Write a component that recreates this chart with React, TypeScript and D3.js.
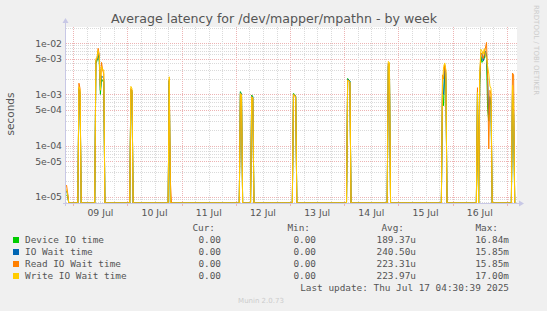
import React from "react";
import * as d3 from "d3";

// Hours since 09 Jul 2025 00:00 (30-minute samples around each burst; all other samples are 0)
const sampleHours = [
  -3.0, -2.5, -2.0,
  2.0, 2.5, 3.0, 3.5,
  9.5, 10.0, 10.5, 11.0, 11.5, 12.0, 12.5, 13.0, 13.5, 14.0,
  25.0, 25.5, 26.0, 26.5,
  42.0, 42.5, 43.0, 43.5,
  73.5, 74.0, 74.5, 75.0,
  78.5, 79.0, 79.5, 80.0,
  97.0, 97.5, 98.0, 98.5, 99.0,
  121.0, 121.5, 122.0, 122.5, 123.0,
  139.0, 139.5, 140.0, 140.5,
  163.0, 163.5, 164.0, 164.5, 165.0, 165.5,
  178.5, 179.0, 179.5, 180.0, 180.5, 181.0, 181.5, 182.0, 182.5, 183.0, 183.5, 184.0, 184.5, 185.0, 185.5,
  194.0, 194.5, 195.0, 195.5,
];

const deviceIO = [
  1.1e-5, 1.0e-5, 0,
  0, 1.2e-3, 1.0e-3, 0,
  0, 4.0e-3, 4.5e-3, 6.0e-3, 4.5e-3, 1.0e-3, 2.0e-3, 1.8e-3, 1.8e-3, 0,
  0, 1.2e-3, 1.1e-3, 0,
  0, 1.8e-3, 0, 0,
  0, 1.13e-3, 1.0e-3, 0,
  0, 9.7e-4, 9.0e-4, 0,
  0, 1.04e-3, 1.0e-3, 9.0e-4, 0,
  0, 2.04e-3, 1.9e-3, 1.8e-3, 0,
  0, 3.5e-3, 3.3e-3, 0,
  0, 1.2e-3, 6.0e-4, 3.0e-3, 2.0e-3, 0,
  0, 1.0e-3, 0, 1.5e-3, 5.5e-3, 4.2e-3, 4.5e-3, 5.0e-3, 6.5e-3, 5.0e-3, 5.0e-4, 3.0e-4, 8.0e-4, 6.0e-4, 0,
  0, 1.0e-3, 4.0e-4, 0,
];

const ioWait = [
  1.3e-5, 1.1e-5, 0,
  0, 1.3e-3, 1.1e-3, 0,
  0, 4.5e-3, 4.8e-3, 6.8e-3, 5.0e-3, 1.2e-3, 2.3e-3, 2.2e-3, 2.0e-3, 0,
  0, 1.25e-3, 1.2e-3, 0,
  0, 1.9e-3, 0, 0,
  0, 1.08e-3, 1.0e-3, 0,
  0, 9.3e-4, 8.8e-4, 0,
  0, 1.0e-3, 9.8e-4, 9.0e-4, 0,
  0, 1.95e-3, 1.9e-3, 1.8e-3, 0,
  0, 4.0e-3, 3.8e-3, 0,
  0, 1.1e-3, 1.0e-3, 3.5e-3, 2.5e-3, 0,
  0, 1.15e-3, 0, 1.8e-3, 6.0e-3, 6.4e-3, 4.5e-3, 5.5e-3, 7.0e-3, 6.0e-3, 2.0e-3, 4.0e-4, 9.0e-4, 7.0e-4, 0,
  0, 1.2e-3, 4.5e-4, 0,
];

const readWait = [
  1.7e-5, 1.2e-5, 0,
  0, 1.65e-3, 1.3e-3, 0,
  0, 4.5e-3, 5.0e-3, 7.9e-3, 6.0e-3, 1.5e-3, 4.2e-3, 3.0e-3, 2.5e-3, 0,
  0, 1.3e-3, 1.2e-3, 0,
  0, 2.0e-3, 2.0e-5, 0,
  0, 1.0e-3, 9.5e-4, 0,
  0, 9.0e-4, 8.5e-4, 0,
  0, 9.5e-4, 9.5e-4, 8.5e-4, 0,
  0, 1.9e-3, 1.85e-3, 1.7e-3, 0,
  0, 4.0e-3, 3.9e-3, 0,
  0, 2.4e-3, 2.0e-3, 3.8e-3, 2.8e-3, 0,
  0, 1.35e-3, 0, 2.0e-3, 6.5e-3, 6.0e-3, 5.0e-3, 6.0e-3, 8.0e-3, 1.03e-2, 2.0e-3, 8.6e-5, 1.2e-3, 1.0e-3, 0,
  0, 2.6e-3, 2.4e-3, 0,
];

const writeWait = [
  1.4e-5, 1.1e-5, 0,
  0, 1.4e-3, 1.2e-3, 0,
  0, 5.0e-3, 5.0e-3, 7.2e-3, 5.5e-3, 1.2e-3, 3.5e-3, 3.0e-3, 3.0e-3, 0,
  0, 1.43e-3, 1.3e-3, 0,
  0, 2.2e-3, 0, 0,
  0, 1.05e-3, 1.0e-3, 0,
  0, 9.0e-4, 8.5e-4, 0,
  0, 1.0e-3, 9.8e-4, 9.0e-4, 0,
  0, 1.9e-3, 1.85e-3, 1.7e-3, 0,
  0, 4.4e-3, 4.2e-3, 0,
  0, 1.5e-3, 3.5e-3, 4.1e-3, 3.0e-3, 0,
  0, 1.1e-3, 0, 2.5e-3, 7.6e-3, 7.0e-3, 6.0e-3, 7.8e-3, 6.0e-3, 5.0e-3, 3.5e-3, 2.5e-3, 1.45e-3, 1.3e-3, 0,
  0, 1.5e-3, 5.0e-4, 0,
];

const seriesNames = ["Device IO time", "IO Wait time", "Read IO Wait time", "Write IO Wait time"];
const seriesColors = ["#00CC00", "#0066B3", "#FF8000", "#FFCC00"];
const seriesValues = [deviceIO, ioWait, readWait, writeWait];
const curValues = ["0.00", "0.00", "0.00", "0.00"];
const minValues = ["0.00", "0.00", "0.00", "0.00"];
const avgValues = ["189.37u", "240.50u", "223.31u", "223.97u"];
const maxValues = ["16.84m", "15.85m", "15.85m", "17.00m"];

const dayLabels = ["09 Jul", "10 Jul", "11 Jul", "12 Jul", "13 Jul", "14 Jul", "15 Jul", "16 Jul"];
const yTickValues = [1e-2, 5e-3, 1e-3, 5e-4, 1e-4, 5e-5, 1e-5];
const yTickLabels = ["1e-02", "5e-03", "1e-03", "5e-04", "1e-04", "5e-05", "1e-05"];

const W = 547;
const H = 311;
const L = 66;
const R = 517;
const T = 27;
const B = 203;

export default function App() {
  const x = d3.scaleLinear().domain([-3.23, 196.5]).range([L, R]);
  const y = d3.scaleLog().domain([7.6e-6, 2.06e-2]).range([B, T]);
  const yMin = 7.6e-6;

  const hGrid: { v: number; major: boolean }[] = [];
  for (let d = -6; d <= -1; d++) {
    for (let m = 1; m <= 9; m++) {
      const v = m * Math.pow(10, d);
      if (v > yMin && v < 2.06e-2) hGrid.push({ v, major: m === 1 || m === 5 });
    }
  }
  const vGrid: { t: number; major: boolean }[] = [];
  for (let t = 0; t <= 196; t += 6) vGrid.push({ t, major: t % 24 === 0 });

  const line = d3
    .line<[number, number]>()
    .x((d) => x(d[0]))
    .y((d) => y(Math.max(d[1], yMin)));

  const mono = "'DejaVu Sans Mono', monospace";
  const sans = "'DejaVu Sans', sans-serif";
  const legendRows = [240, 252, 264, 276];
  const majorC = "#EDB4B4";
  const minorC = "#DADADA";

  return (
    <svg width={W} height={H} style={{ position: "absolute", left: 0, top: 0, background: "#F0F0F0" }}>
      <rect x={0} y={0} width={W} height={H} fill="#F0F0F0" />
      <rect x={L} y={T} width={R - L} height={B - T} fill="#FFFFFF" />
      {hGrid.map((g, i) => (
        <line
          key={"h" + i}
          x1={L}
          x2={R}
          y1={Math.round(y(g.v)) + 0.5}
          y2={Math.round(y(g.v)) + 0.5}
          stroke={g.major ? majorC : minorC}
          strokeDasharray="1,1"
          strokeWidth={1}
        />
      ))}
      {vGrid.map((g, i) => (
        <line
          key={"v" + i}
          x1={Math.round(x(g.t)) + 0.5}
          x2={Math.round(x(g.t)) + 0.5}
          y1={T}
          y2={B}
          stroke={g.major ? majorC : minorC}
          strokeDasharray="1,1"
          strokeWidth={1}
        />
      ))}
      {vGrid
        .filter((g) => g.major)
        .map((g, i) => (
          <line
            key={"vt" + i}
            x1={Math.round(x(g.t)) + 0.5}
            x2={Math.round(x(g.t)) + 0.5}
            y1={B}
            y2={B + 3}
            stroke={majorC}
          />
        ))}
      <g clipPath="url(#plotclip)">
        <defs>
          <clipPath id="plotclip">
            <rect x={L} y={T - 2} width={R - L + 1} height={B - T + 3} />
          </clipPath>
        </defs>
        {seriesValues.map((vals, si) => (
          <path
            key={"s" + si}
            d={line(sampleHours.map((t, i) => [t, vals[i]] as [number, number])) || ""}
            fill="none"
            stroke={seriesColors[si]}
            strokeWidth={1}
          />
        ))}
      </g>
      {/* axes */}
      <line x1={L - 0.5} x2={L - 0.5} y1={B + 3} y2={T - 6} stroke="#C8C8E6" />
      <path d={`M${L - 3.5},${T - 4} L${L - 0.5},${T - 9} L${L + 2.5},${T - 4} Z`} fill="#C8C8E6" />
      <line x1={L - 3} x2={R + 4} y1={B + 0.5} y2={B + 0.5} stroke="#C8C8E6" />
      <path d={`M${R + 2},${B - 2.5} L${R + 7},${B + 0.5} L${R + 2},${B + 3.5} Z`} fill="#C8C8E6" />

      {yTickValues.map((v, i) => (
        <text
          key={"yt" + i}
          x={62}
          y={y(v) + 3.5}
          textAnchor="end"
          fontFamily={sans}
          fontSize={9.3}
          fill="#555555"
        >
          {yTickLabels[i]}
        </text>
      ))}
      {dayLabels.map((lab, i) => (
        <text
          key={"xt" + i}
          x={x(12 + 24 * i)}
          y={216}
          textAnchor="middle"
          fontFamily={sans}
          fontSize={9.3}
          fill="#555555"
        >
          {lab}
        </text>
      ))}
      <text
        transform={`translate(14,114) rotate(-90)`}
        textAnchor="middle"
        fontFamily={sans}
        fontSize={10.5}
        fill="#555555"
      >
        seconds
      </text>
      <text x={274} y={23} textAnchor="middle" fontFamily={sans} fontSize={12.6} fill="#555555">
        Average latency for /dev/mapper/mpathn - by week
      </text>
      <text
        transform={`translate(534,5) rotate(90)`}
        textAnchor="start"
        fontFamily={sans}
        fontSize={7}
        fill="#CCCCCC"
      >
        RRDTOOL / TOBI OETIKER
      </text>

      {/* legend */}
      <g fontFamily={mono} fontSize={9.4} fill="#555555">
        <text x={215} y={231} textAnchor="end">Cur:</text>
        <text x={310} y={231} textAnchor="end">Min:</text>
        <text x={404} y={231} textAnchor="end">Avg:</text>
        <text x={498} y={231} textAnchor="end">Max:</text>
        {seriesNames.map((n, i) => (
          <g key={"lg" + i}>
            <rect x={13} y={legendRows[i] - 3} width={6} height={6} fill={seriesColors[i]} />
            <text x={25} y={legendRows[i] + 3.3}>{n}</text>
            <text x={221} y={legendRows[i] + 3.3} textAnchor="end">{curValues[i]}</text>
            <text x={316} y={legendRows[i] + 3.3} textAnchor="end">{minValues[i]}</text>
            <text x={416} y={legendRows[i] + 3.3} textAnchor="end">{avgValues[i]}</text>
            <text x={509} y={legendRows[i] + 3.3} textAnchor="end">{maxValues[i]}</text>
          </g>
        ))}
        <text x={509} y={291} textAnchor="end">Last update: Thu Jul 17 04:30:39 2025</text>
      </g>
      <text x={261} y={303} textAnchor="middle" fontFamily={sans} fontSize={7} fill="#CCCCCC">
        Munin 2.0.73
      </text>
    </svg>
  );
}
